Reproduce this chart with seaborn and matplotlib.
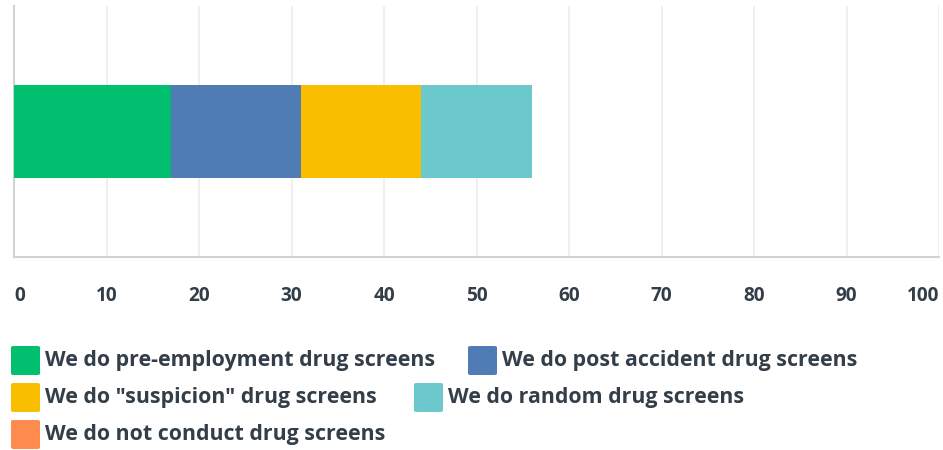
import numpy as np
import pandas as pd
import seaborn as sns
import matplotlib
matplotlib.use("Agg")
import matplotlib.pyplot as plt
from matplotlib.patches import FancyBboxPatch

# answer options and their counts
labels = ['We do pre-employment drug screens',
          'We do post accident drug screens',
          'We do "suspicion" drug screens',
          'We do random drug screens',
          'We do not conduct drug screens']
values = [17, 14, 13, 12, 0]
colors = ['#00BF6F', '#507CB6', '#F9BE00', '#6BC8CD', '#FF8B4F']
ticks = list(range(0, 101, 10))

text_col = '#333E48'
sns.set_theme(style='white')
plt.rcParams['font.family'] = ['Open Sans', 'DejaVu Sans']

fig = plt.figure(figsize=(9.43, 4.5), dpi=100)
ax = fig.add_axes([14 / 943, 1 - 257 / 450, 925 / 943, 251 / 450])

df = pd.DataFrame({'label': labels, 'value': values, 'color': colors})
df['cum'] = df['value'].cumsum()

# stacked bar: draw cumulative totals back to front
for i in range(len(df) - 1, -1, -1):
    row = df.iloc[i]
    sns.barplot(x=[row['cum']], y=['q'], color=row['color'], orient='h',
                width=0.37, ax=ax, saturation=1, linewidth=0, zorder=3)

ax.set_xlim(0, 100)
ax.set_ylim(0.5, -0.5)
ax.set_xticks(ticks)
ax.set_yticks([])
ax.set_xlabel('')
ax.set_ylabel('')
ax.grid(axis='x', color='#EDEEEE', linewidth=1.3, zorder=0)
for s in ['top', 'right']:
    ax.spines[s].set_visible(False)
for s in ['left', 'bottom']:
    ax.spines[s].set_color('#D0D2D3')
    ax.spines[s].set_linewidth(1.5)
ax.tick_params(axis='x', length=0, pad=21, labelsize=13.7, labelcolor=text_col)
tl = ax.get_xticklabels()
for t in tl:
    t.set_fontweight('bold')
tl[0].set_ha('left')
tl[-1].set_ha('right')

# legend laid out in a flow like the source
legend_pos = [(11, 346), (468, 346), (11, 383), (414, 383), (11, 420)]
for (lab, col), (px, py) in zip(zip(labels, colors), legend_pos):
    box = FancyBboxPatch((px / 943, 1 - (py + 29) / 450), 29 / 943, 29 / 450,
                         boxstyle='round,pad=0,rounding_size=0.003',
                         transform=fig.transFigure, facecolor=col,
                         edgecolor='none')
    fig.patches.append(box)
    fig.text((px + 34) / 943, 1 - (py + 14.5) / 450, lab, fontsize=15.4,
             fontweight='bold', color=text_col, va='center', ha='left')

fig.savefig('out.png', dpi=100)
